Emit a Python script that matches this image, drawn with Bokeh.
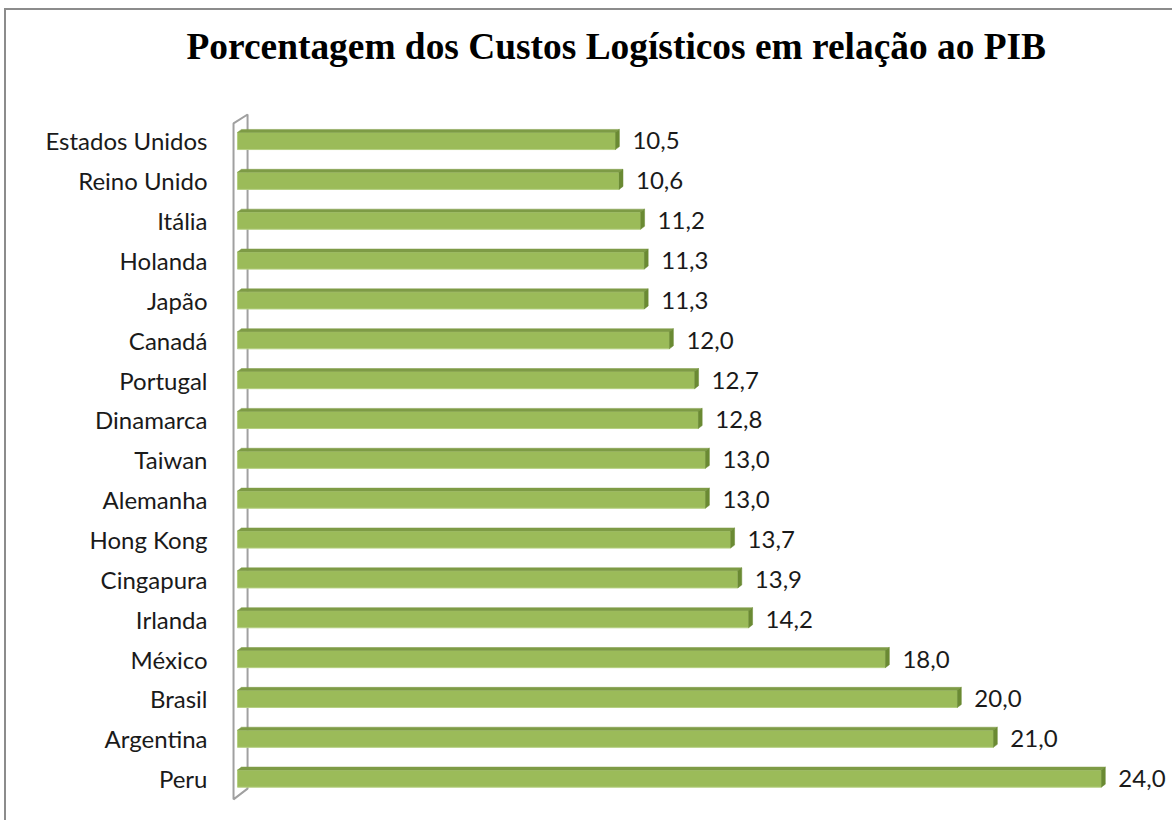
from bokeh.plotting import figure
from bokeh.models import Range1d, FixedTicker, ColumnDataSource, Title
from bokeh.core.properties import value
from bokeh.embed import file_html
from bokeh.resources import INLINE

categories = ["Estados Unidos", "Reino Unido", "Itália", "Holanda", "Japão", "Canadá",
              "Portugal", "Dinamarca", "Taiwan", "Alemanha", "Hong Kong", "Cingapura",
              "Irlanda", "México", "Brasil", "Argentina", "Peru"]
values = [10.5, 10.6, 11.2, 11.3, 11.3, 12.0, 12.7, 12.8, 13.0, 13.0, 13.7, 13.9,
          14.2, 18.0, 20.0, 21.0, 24.0]
value_labels = [f"{v:.1f}".replace(".", ",") for v in values]
title_text = "Porcentagem dos Custos Logísticos em relação ao PIB"

# style constants
FACE = "#9BBB59"
TOP = "#7E9B46"
SIDE = "#6A8A33"
H = 0.43      # face height (row units)
DX = 0.11     # 3D depth in value units
DY = 0.075    # 3D depth in row units
LABEL_FONT = "Lato"

n = len(categories)
ks = list(range(n))

p = figure(width=1168, height=812, output_backend="svg", toolbar_location=None,
           title=None,
           x_range=Range1d(-0.333, 25.81), y_range=Range1d(16.80, -1.016),
           min_border_left=219, min_border_right=8, min_border_top=90,
           min_border_bottom=12,
           styles={"margin-left": "4px", "margin-top": "8px",
                   "border-left": "2px solid #8c8c8c",
                   "border-top": "2px solid #8c8c8c"})
p.outline_line_color = None
p.grid.visible = False
p.xaxis.visible = False

# spacer between the frame and the title, then the title itself
p.add_layout(Title(text=" ", text_font_size="1px", standoff=26), "above")
p.add_layout(Title(text=title_text, align="left", offset=-39, standoff=10,
                   text_font="Liberation Serif", text_font_style="bold",
                   text_font_size="37.4px", text_color="black"), "above")

yax = p.yaxis[0]
yax.ticker = FixedTicker(ticks=ks)
yax.major_label_overrides = {k: c for k, c in zip(ks, categories)}
yax.axis_line_color = None
yax.major_tick_line_color = None
yax.minor_tick_line_color = None
yax.major_tick_out = 0
yax.major_tick_in = 0
yax.major_label_standoff = 18
yax.major_label_text_font = LABEL_FONT
yax.major_label_text_font_size = "24px"
yax.major_label_text_color = "#1a1a1a"

# 3D back wall
wl, wr = -0.11, 0.28
p.patch(x=[wl, wr, wr, wl], y=[-0.44, -0.665, n - 1 + 0.25, n - 1 + 0.52],
        fill_alpha=0, line_color="#a0a0a0", line_width=2)

# bars: front face
src = ColumnDataSource(dict(k=ks, v=values, lab=value_labels))
p.hbar(y="k", left=0, right="v", height=H, source=src, fill_color=FACE,
       line_color="#b5cf82", line_width=1)

# top faces and right faces
top_xs, top_ys, side_xs, side_ys = [], [], [], []
for k, v in zip(ks, values):
    t, b = k - H / 2, k + H / 2
    top_xs.append([0, DX, v + DX, v])
    top_ys.append([t, t - DY, t - DY, t])
    side_xs.append([v, v + DX, v + DX, v])
    side_ys.append([t, t - DY, b - DY, b])
p.patches(top_xs, top_ys, fill_color=TOP, line_color=TOP, line_width=0.5)
p.patches(side_xs, side_ys, fill_color=SIDE, line_color=SIDE, line_width=0.5)

p.text(x="v", y="k", text="lab", source=src, x_offset=17, y_offset=0,
       text_baseline="middle", text_align="left", text_font=value(LABEL_FONT),
       text_font_size="24px", text_color="#1a1a1a")

open("out.html", "w").write(file_html(p, INLINE))
